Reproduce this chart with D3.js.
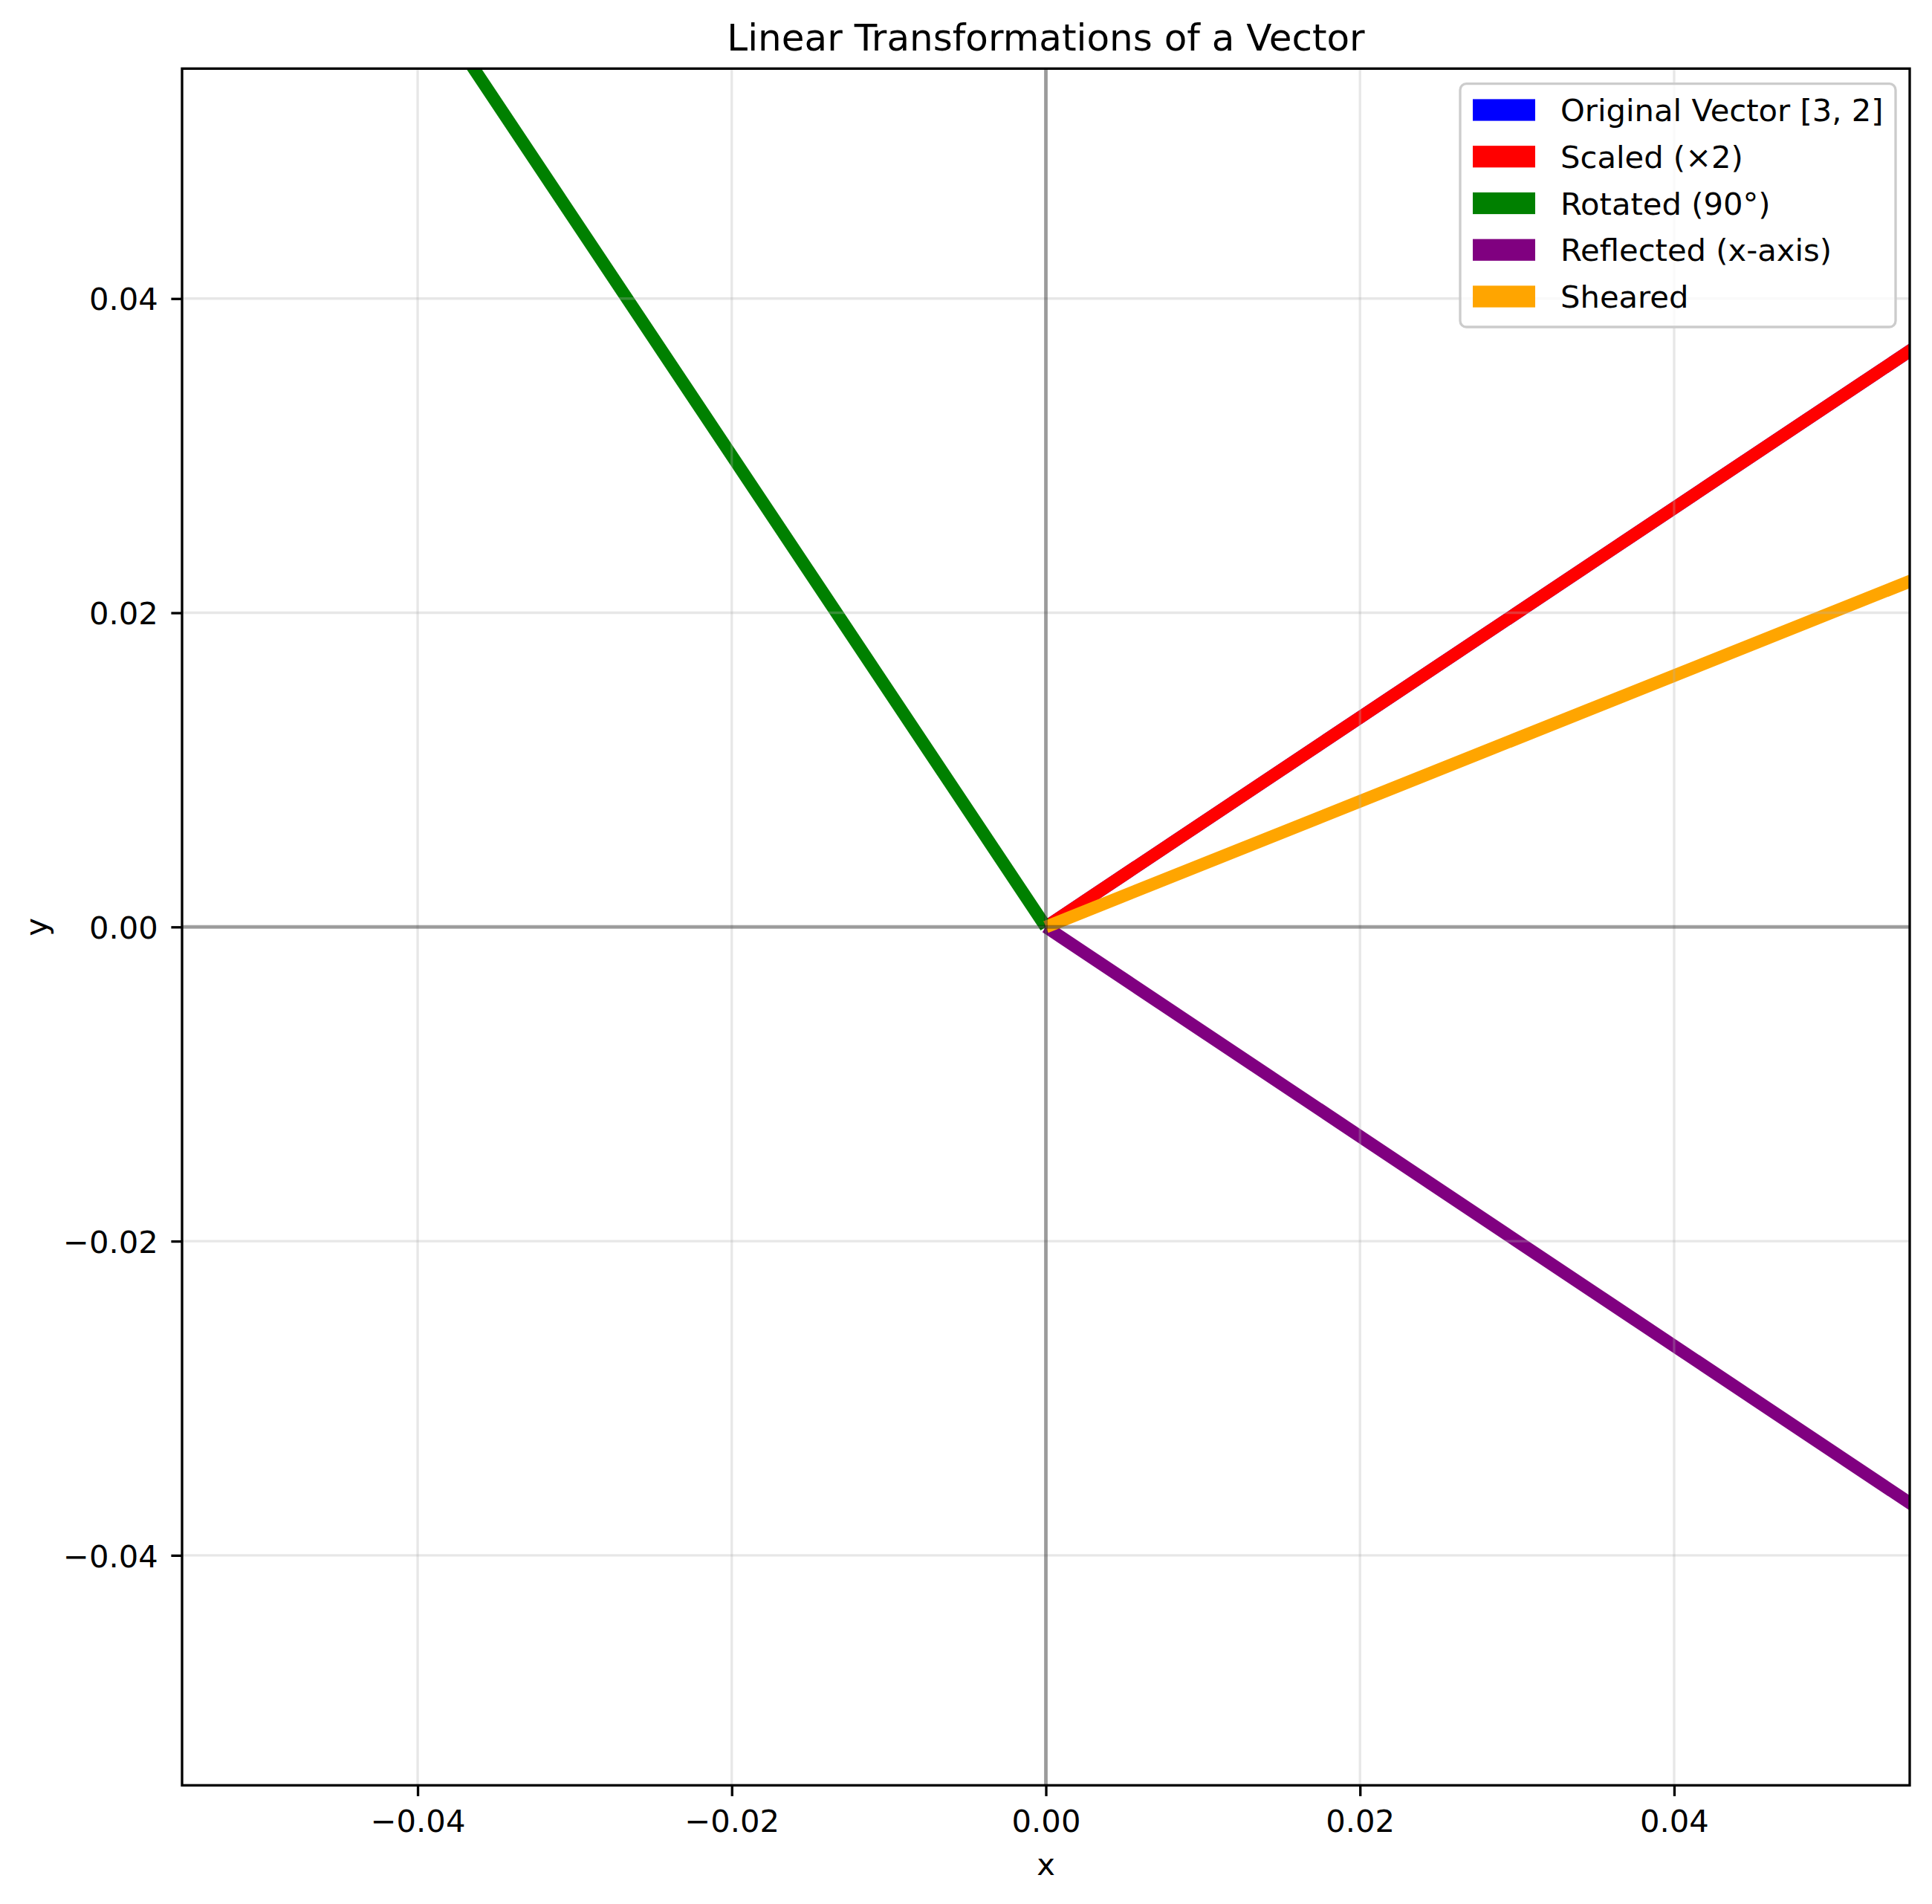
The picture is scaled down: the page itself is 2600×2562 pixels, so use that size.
<!DOCTYPE html>
<html>
<head>
<meta charset="utf-8">
<script src="https://cdn.jsdelivr.net/npm/d3@7"></script>
<style>
  html, body { margin: 0; padding: 0; background: #ffffff; }
  svg { display: block; font-family: "DejaVu Sans", sans-serif; }
</style>
</head>
<body>
<div id="chart"></div>
<script>
// ---- data ----
const vectorLabels = ["Original Vector [3, 2]", "Scaled (\u00d72)", "Rotated (90\u00b0)", "Reflected (x-axis)", "Sheared"];
const vectorU = [3, 6, -2, 3, 5];
const vectorV = [2, 4, 3, -2, 2];
const vectorColors = ["#0000ff", "#ff0000", "#008000", "#800080", "#ffa500"];
const xTicks = [-0.04, -0.02, 0.00, 0.02, 0.04];
const yTicks = [-0.04, -0.02, 0.00, 0.02, 0.04];
const xDomain = [-0.055, 0.055];
const yDomain = [-0.05464, 0.05464];
const titleText = "Linear Transformations of a Vector";
const xLabelText = "x";
const yLabelText = "y";

// ---- layout ----
const W = 2600, H = 2562;
const plot = { left: 245, right: 2570, top: 92.3, bottom: 2402.3 };
const fs = 41.7;          // 10pt at 300 dpi
const lw = 3.33;          // 0.8pt

const svg = d3.select("#chart").append("svg")
  .attr("width", W).attr("height", H)
  .attr("viewBox", `0 0 ${W} ${H}`);

svg.append("rect").attr("width", W).attr("height", H).attr("fill", "#ffffff");

const x = d3.scaleLinear().domain(xDomain).range([plot.left, plot.right]);
const y = d3.scaleLinear().domain(yDomain).range([plot.bottom, plot.top]);

svg.append("defs").append("clipPath").attr("id", "plotclip")
  .append("rect")
  .attr("x", plot.left).attr("y", plot.top)
  .attr("width", plot.right - plot.left).attr("height", plot.bottom - plot.top);

const inner = svg.append("g").attr("clip-path", "url(#plotclip)");

// vectors (quiver shafts, drawn from origin)
const vecData = vectorLabels.map((l, i) => ({ label: l, u: vectorU[i], v: vectorV[i], color: vectorColors[i] }));
inner.selectAll("line.vec").data(vecData).enter().append("line")
  .attr("class", "vec")
  .attr("x1", x(0)).attr("y1", y(0))
  .attr("x2", d => x(d.u)).attr("y2", d => y(d.v))
  .attr("stroke", d => d.color)
  .attr("stroke-width", 17)
  .attr("stroke-linecap", "butt");

// grid
const gridColor = "rgba(176,176,176,0.3)";
inner.selectAll("line.gx").data(xTicks).enter().append("line")
  .attr("x1", d => x(d)).attr("x2", d => x(d))
  .attr("y1", plot.top).attr("y2", plot.bottom)
  .attr("stroke", gridColor).attr("stroke-width", lw);
inner.selectAll("line.gy").data(yTicks).enter().append("line")
  .attr("y1", d => y(d)).attr("y2", d => y(d))
  .attr("x1", plot.left).attr("x2", plot.right)
  .attr("stroke", gridColor).attr("stroke-width", lw);

// zero lines
inner.append("line")
  .attr("x1", plot.left).attr("x2", plot.right)
  .attr("y1", y(0)).attr("y2", y(0))
  .attr("stroke", "rgba(0,0,0,0.33)").attr("stroke-width", 5);
inner.append("line")
  .attr("x1", x(0)).attr("x2", x(0))
  .attr("y1", plot.top).attr("y2", plot.bottom)
  .attr("stroke", "rgba(0,0,0,0.33)").attr("stroke-width", 5);

// axes (ticks via d3 axes)
const fmt = d => d3.format(".2f")(d).replace("-", "\u2212");
const xAxis = d3.axisBottom(x).tickValues(xTicks).tickFormat(fmt).tickSize(14.6).tickPadding(14.6);
const yAxis = d3.axisLeft(y).tickValues(yTicks).tickFormat(fmt).tickSize(14.6).tickPadding(14.6);

const gx = svg.append("g").attr("transform", `translate(0,${plot.bottom})`).call(xAxis);
const gy = svg.append("g").attr("transform", `translate(${plot.left},0)`).call(yAxis);
[gx, gy].forEach(g => {
  g.select(".domain").remove();
  g.selectAll(".tick line").attr("stroke", "#000").attr("stroke-width", lw);
  g.selectAll(".tick text")
    .attr("fill", "#000")
    .attr("font-family", "DejaVu Sans")
    .attr("font-size", fs);
});
gx.selectAll(".tick text").attr("dy", null).attr("y", 2465 - plot.bottom);
gy.selectAll(".tick text").attr("dy", null).attr("y", 15.2).attr("x", 212.7 - plot.left);

// spines
svg.append("rect")
  .attr("x", plot.left).attr("y", plot.top)
  .attr("width", plot.right - plot.left).attr("height", plot.bottom - plot.top)
  .attr("fill", "none").attr("stroke", "#000").attr("stroke-width", lw)
  .attr("stroke-linejoin", "miter");

// title and axis labels
svg.append("text")
  .attr("x", (plot.left + plot.right) / 2).attr("y", 68)
  .attr("text-anchor", "middle")
  .attr("font-size", 50).attr("fill", "#000")
  .text(titleText);
svg.append("text")
  .attr("x", (plot.left + plot.right) / 2).attr("y", 2523)
  .attr("text-anchor", "middle")
  .attr("font-size", fs).attr("fill", "#000")
  .text(xLabelText);
svg.append("text")
  .attr("transform", `translate(63,${y(0)}) rotate(-90)`)
  .attr("text-anchor", "middle")
  .attr("font-size", fs).attr("fill", "#000")
  .text(yLabelText);

// legend
const leg = { left: 1965, top: 112.7, right: 2551, bottom: 440 };
svg.append("rect")
  .attr("x", leg.left).attr("y", leg.top)
  .attr("width", leg.right - leg.left).attr("height", leg.bottom - leg.top)
  .attr("rx", 8.3).attr("ry", 8.3)
  .attr("fill", "rgba(255,255,255,0.8)")
  .attr("stroke", "#cccccc").attr("stroke-width", lw);

const rowY = d3.scaleLinear().domain([0, 1]).range([148, 210.75]);
const legRows = svg.selectAll("g.legrow").data(vecData).enter().append("g")
  .attr("transform", (d, i) => `translate(0,${rowY(i)})`);
legRows.append("rect")
  .attr("x", 1982).attr("y", -14.6)
  .attr("width", 84).attr("height", 29.2)
  .attr("fill", d => d.color);
legRows.append("text")
  .attr("x", 2100).attr("y", 15)
  .attr("font-size", fs).attr("fill", "#000")
  .text(d => d.label);
</script>
</body>
</html>
